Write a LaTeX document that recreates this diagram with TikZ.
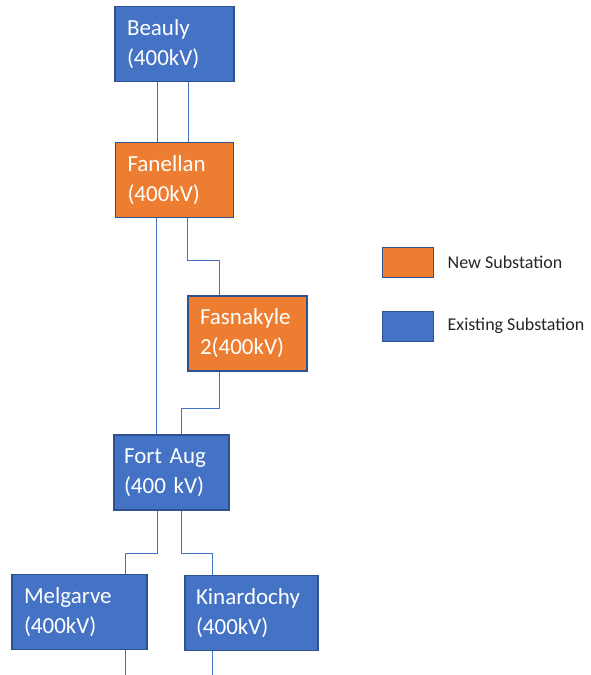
\documentclass[tikz,border=0pt]{standalone}
\usepackage{fontspec}
\setmainfont{Carlito}
\usetikzlibrary{positioning}
\definecolor{subblue}{HTML}{4472C4}
\definecolor{subedge}{HTML}{2F528F}
\definecolor{suborange}{HTML}{ED7D31}

\begin{document}
\begin{tikzpicture}[x=1pt,y=-1pt,node distance=60pt]
  \tikzstyle{sub}=[draw=subedge,line width=1.2pt,text=white,align=left,inner xsep=12pt,minimum height=75pt,font=\fontsize{23}{30}\selectfont]
  \tikzstyle{key}=[draw=subedge,line width=1pt,minimum width=51pt,minimum height=30pt,inner sep=0pt]
  \tikzstyle{keytext}=[inner sep=0pt,text=black!85,font=\fontsize{18}{22}\selectfont]
  \tikzstyle{link}=[draw=subblue,line width=1pt]
  \useasboundingbox (0,0) rectangle (590,675);
  \node[sub,fill=subblue,text width=95pt] (beauly) at (174.5,44) {Beauly\\(400kV)};
  \node[sub,fill=suborange,text width=94pt,below=60pt of beauly] (fanellan) {Fanellan\\(400kV)};
  \node[sub,fill=suborange,text width=95pt] (fasnakyle) at (247.5,333.5) {Fasnakyle\\2(400kV)};
  \node[sub,fill=subblue,text width=95pt,inner xsep=10pt] (fortaug) at (171.5,472.5) {Fort Aug\\(400 kV)};
  \node[sub,fill=subblue,text width=111pt] (melgarve) at (79.5,612) {Melgarve\\(400kV)};
  \node[sub,fill=subblue,text width=111pt,inner xsep=11pt] (kinardochy) at (251.5,613) {Kinardochy\\(400kV)};
  \coordinate (melgout) at (125,675);
  \coordinate (kinout) at (212,675);
  \node[key,fill=suborange] (keynew) at (407.5,262) {};
  \node[keytext,right=14pt of keynew] (keynewtext) {New Substation};
  \node[key,fill=subblue,below=33pt of keynew] (keyold) {};
  \node[keytext,right=14pt of keyold] (keyoldtext) {Existing Substation};
  \draw[link] ([xshift=-17.5pt]beauly.south) -- ([xshift=-17.5pt]beauly.south |- fanellan.north);
  \draw[link] ([xshift=13.5pt]beauly.south) -- ([xshift=13.5pt]beauly.south |- fanellan.north);
  \draw[link] ([xshift=-18pt]fanellan.south) -- ([xshift=-18pt]fanellan.south |- fortaug.north);
  \draw[link] ([xshift=13pt]fanellan.south) -- ++(0,42) -| ([xshift=-28.5pt]fasnakyle.north);
  \draw[link] ([xshift=-28.5pt]fasnakyle.south) -- ++(0,37) -| ([xshift=9.5pt]fortaug.north);
  \draw[link] ([xshift=-14.5pt]fortaug.south) -- ++(0,43) -| ([xshift=45.5pt]melgarve.north);
  \draw[link] ([xshift=9.5pt]fortaug.south) -- ++(0,43) -| ([xshift=-39.5pt]kinardochy.north);
  \draw[link] ([xshift=45.5pt]melgarve.south) -- (melgout);
  \draw[link] ([xshift=-39.5pt]kinardochy.south) -- (kinout);
\end{tikzpicture}
\end{document}
